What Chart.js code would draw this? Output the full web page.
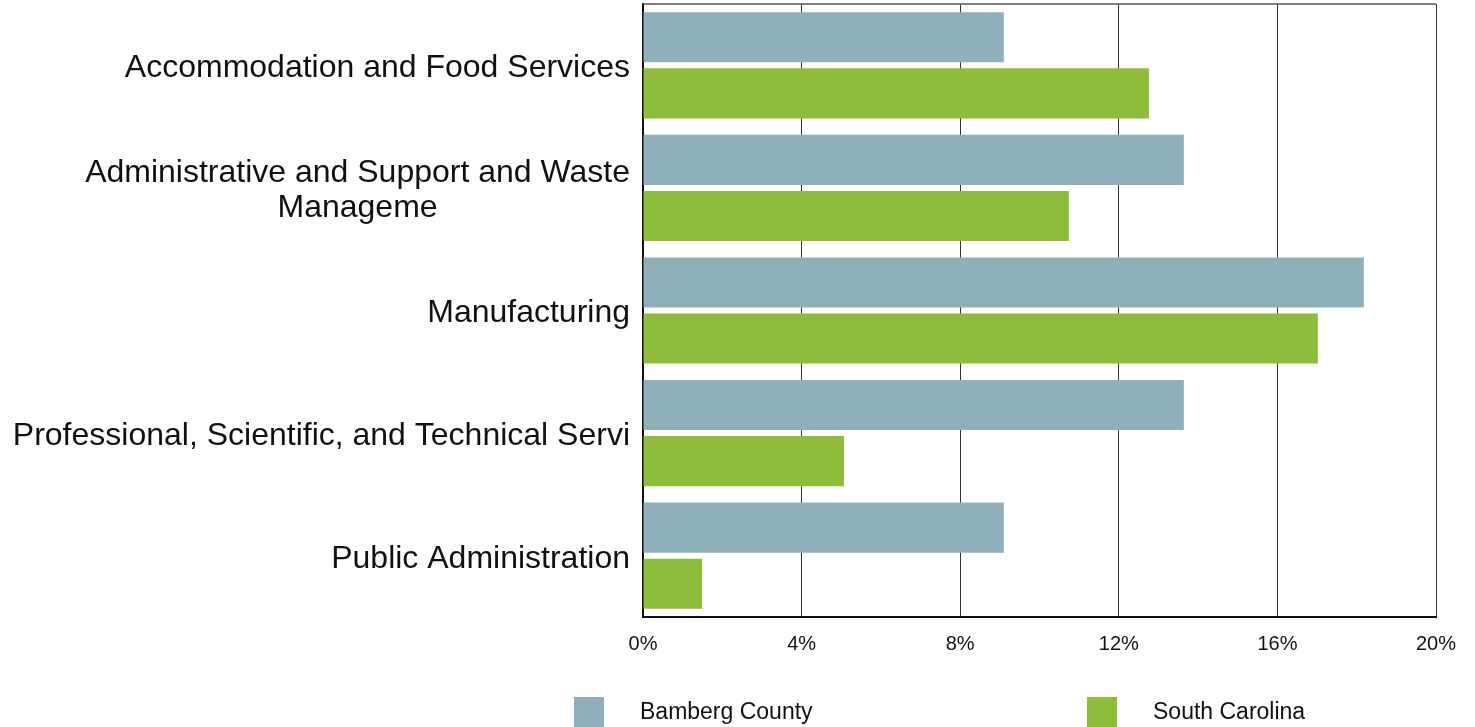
<!DOCTYPE html>
<html>
<head>
<meta charset="utf-8">
<script src="https://cdn.jsdelivr.net/npm/chart.js@4"></script>
<style>
  html, body { margin: 0; padding: 0; background: #fff; }
  #wrap { width: 1475px; height: 727px; position: relative; }
</style>
</head>
<body>
<div id="wrap"><canvas id="myChart" width="1475" height="727"></canvas></div>
<script>
  var categories = [
    "Accommodation and Food Services",
    ["Administrative and Support and Waste", "Manageme"],
    "Manufacturing",
    "Professional, Scientific, and Technical Servi",
    "Public Administration"
  ];
  var seriesNames = ["Bamberg County", "South Carolina"];
  var bambergValues = [9.1, 13.64, 18.18, 13.64, 9.1];
  var scValues = [12.76, 10.74, 17.02, 5.07, 1.49];
  var tickValues = [0, 4, 8, 12, 16, 20];
  var barColors = ["#8FAFBA", "#8DBD3B"];

  var FONT = "'Liberation Sans', Arial, sans-serif";

  // y labels: block right aligned, lines centred inside the block
  var yLabelPlugin = {
    id: "yLabels",
    afterDraw: function (chart) {
      var ctx = chart.ctx;
      var yScale = chart.scales.y;
      var right = chart.chartArea.left - 13;
      ctx.save();
      ctx.font = "32px " + FONT;
      ctx.fillStyle = "#111";
      ctx.textAlign = "center";
      ctx.textBaseline = "middle";
      categories.forEach(function (lab, i) {
        var lines = Array.isArray(lab) ? lab : [lab];
        var w = Math.max.apply(null, lines.map(function (l) { return ctx.measureText(l).width; }));
        var cx = right - w / 2;
        var lh = 35;
        var y0 = yScale.getPixelForValue(i) - (lines.length - 1) * lh / 2 + 3;
        lines.forEach(function (l, j) { ctx.fillText(l, cx, y0 + j * lh); });
      });
      // top border
      var a = chart.chartArea;
      ctx.strokeStyle = "#555";
      ctx.lineWidth = 1.5;
      ctx.beginPath();
      ctx.moveTo(a.left, a.top);
      ctx.lineTo(a.right, a.top);
      ctx.stroke();
      // legend
      var legX = [574, 1087];
      ctx.font = "23px " + FONT;
      ctx.textAlign = "left";
      seriesNames.forEach(function (name, k) {
        ctx.fillStyle = barColors[k];
        ctx.fillRect(legX[k], 697, 30, 30);
        ctx.fillStyle = "#111";
        ctx.fillText(name, legX[k] + 66, 713);
      });
      ctx.restore();
    }
  };

  new Chart("myChart", {
    type: "bar",
    data: {
      labels: categories,
      datasets: [{
        label: seriesNames[0],
        data: bambergValues,
        backgroundColor: barColors[0],
        categoryPercentage: 0.915,
        barPercentage: 0.893
      }, {
        label: seriesNames[1],
        data: scValues,
        backgroundColor: barColors[1],
        categoryPercentage: 0.915,
        barPercentage: 0.893
      }]
    },
    options: {
      indexAxis: "y",
      responsive: false,
      animation: false,
      layout: { padding: { top: 4, right: 39, bottom: 0, left: 0 } },
      plugins: { legend: { display: false }, tooltip: { enabled: false } },
      scales: {
        x: {
          min: 0,
          max: 20,
          afterBuildTicks: function (scale) {
            scale.ticks = tickValues.map(function (v) { return { value: v }; });
          },
          afterFit: function (scale) { scale.height = 110; },
          ticks: {
            font: { family: FONT, size: 20 },
            color: "#111",
            padding: 15,
            callback: function (v) { return v + "%"; }
          },
          grid: { color: "#333", lineWidth: 1, drawTicks: false },
          border: { color: "#111", width: 2 }
        },
        y: {
          afterFit: function (scale) { scale.width = 643; },
          ticks: { display: false },
          grid: { display: false },
          border: { color: "#111", width: 2 }
        }
      }
    },
    plugins: [yLabelPlugin]
  });
</script>
</body>
</html>
